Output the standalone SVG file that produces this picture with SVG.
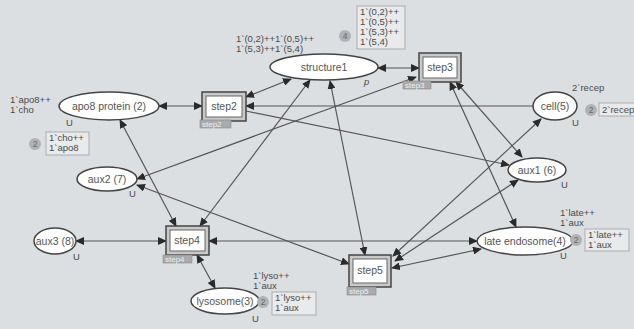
<svg xmlns="http://www.w3.org/2000/svg" width="634" height="329" viewBox="0 0 634 329">
<defs>
<marker id="ah" markerUnits="userSpaceOnUse" markerWidth="9" markerHeight="8" refX="8" refY="4" orient="auto-start-reverse"><path d="M0,0 L9,4 L0,8 z" fill="#2a2a2a"/></marker>
</defs>
<style>
.bg{fill:#dcdfe2}
.pl{fill:#fff;stroke:#444;stroke-width:1.5}
.to{fill:#c9c9c9;stroke:#444;stroke-width:1.5}
.ti{fill:#fff;stroke:#666;stroke-width:1}
.tag{fill:#a8abae;stroke:#888;stroke-width:0.6}
.tagt{font-family:"Liberation Sans",Arial,sans-serif;font-size:8px;fill:#eef0f2}
.lbl{font-family:"Liberation Sans",Arial,sans-serif;font-size:10.5px;fill:#555;text-anchor:middle}
.mk{font-family:"Liberation Sans",Arial,sans-serif;font-size:9.5px;fill:#4a4a4a}
.tok{fill:#b0b2b4}
.tokt{font-family:"Liberation Sans",Arial,sans-serif;font-size:8.5px;fill:#6a6a6a;text-anchor:middle}
.box{fill:#e9eaeb;stroke:#a9abad;stroke-width:1}
.ed{fill:none;stroke:#555;stroke-width:1.2}
.two{marker-start:url(#ah);marker-end:url(#ah)}
.one{marker-end:url(#ah)}
</style>
<rect class="bg" x="0" y="0" width="634" height="329"/>
<g id="connectors">
<line class="ed two" x1="159" y1="106" x2="202" y2="106"/>
<line class="ed two" x1="246" y1="97" x2="291" y2="79"/>
<line class="ed two" x1="378" y1="68" x2="419" y2="68"/>
<line class="ed one" x1="533" y1="106" x2="246" y2="106"/>
<line class="ed one" x1="246" y1="111" x2="509" y2="165"/>
<line class="ed two" x1="137" y1="179" x2="416" y2="77"/>
<line class="ed two" x1="120" y1="120" x2="176" y2="226"/>
<line class="ed two" x1="310" y1="80" x2="200" y2="226"/>
<line class="ed two" x1="330" y1="81" x2="365" y2="255"/>
<line class="ed two" x1="450" y1="82" x2="516" y2="227"/>
<line class="ed two" x1="456" y1="82" x2="522" y2="157"/>
<line class="ed two" x1="393" y1="256" x2="541" y2="119"/>
<line class="ed two" x1="395" y1="261" x2="518" y2="180"/>
<line class="ed two" x1="392" y1="268" x2="481" y2="249"/>
<line class="ed two" x1="209" y1="241" x2="477" y2="241"/>
<line class="ed two" x1="76" y1="241" x2="166" y2="241"/>
<line class="ed two" x1="197" y1="255" x2="215" y2="288"/>
<line class="ed two" x1="137" y1="185" x2="349" y2="264"/>
</g>
<g id="structure1">
<ellipse class="pl" cx="324" cy="67" rx="54" ry="13"/>
<text class="lbl" x="324" y="71">structure1</text>
<text class="mk" x="364" y="85" font-style="italic">p</text>
<text class="mk" x="236" y="42">1`(0,2)++1`(0,5)++</text>
<text class="mk" x="236" y="52">1`(5,3)++1`(5,4)</text>
<circle class="tok" cx="345" cy="36" r="6"/><text class="tokt" x="345" y="39">4</text>
<rect class="box" x="357" y="6" width="48" height="43"/>
<text class="mk" x="360" y="15">1`(0,2)++</text>
<text class="mk" x="360" y="25">1`(0,5)++</text>
<text class="mk" x="360" y="35">1`(5,3)++</text>
<text class="mk" x="360" y="45">1`(5,4)</text>
</g>
<g id="apo8">
<ellipse class="pl" cx="109" cy="106" rx="50" ry="14"/>
<text class="lbl" x="109" y="110">apo8 protein (2)</text>
<text class="mk" x="10" y="103">1`apo8++</text>
<text class="mk" x="10" y="113">1`cho</text>
<text class="mk" x="66" y="126">U</text>
<circle class="tok" cx="35" cy="144" r="6"/><text class="tokt" x="35" y="147">2</text>
<rect class="box" x="46" y="132" width="43" height="23"/>
<text class="mk" x="49" y="141">1`cho++</text>
<text class="mk" x="49" y="151">1`apo8</text>
</g>
<g id="cell">
<ellipse class="pl" cx="555" cy="106" rx="22" ry="14"/>
<text class="lbl" x="555" y="110">cell(5)</text>
<text class="mk" x="572" y="91">2`recep</text>
<text class="mk" x="572" y="126">U</text>
<circle class="tok" cx="591" cy="110" r="6"/><text class="tokt" x="591" y="113">2</text>
<rect class="box" x="599" y="103" width="40" height="13"/>
<text class="mk" x="602" y="113">2`recep</text>
</g>
<g id="aux1">
<ellipse class="pl" cx="537" cy="170" rx="29" ry="12"/>
<text class="lbl" x="537" y="174">aux1 (6)</text>
<text class="mk" x="561" y="188">U</text>
</g>
<g id="aux2">
<ellipse class="pl" cx="107" cy="179" rx="30" ry="12"/>
<text class="lbl" x="107" y="183">aux2 (7)</text>
<text class="mk" x="129" y="197">U</text>
</g>
<g id="aux3">
<ellipse class="pl" cx="55" cy="241" rx="21" ry="13"/>
<text class="lbl" x="55" y="245">aux3 (8)</text>
<text class="mk" x="73" y="260">U</text>
</g>
<g id="late">
<ellipse class="pl" cx="525" cy="241" rx="48" ry="14"/>
<text class="lbl" x="525" y="245">late endosome(4)</text>
<text class="mk" x="560" y="216">1`late++</text>
<text class="mk" x="560" y="226">1`aux</text>
<text class="mk" x="560" y="259">U</text>
<circle class="tok" cx="576" cy="240" r="6"/><text class="tokt" x="576" y="243">2</text>
<rect class="box" x="585" y="229" width="44" height="22"/>
<text class="mk" x="588" y="238">1`late++</text>
<text class="mk" x="588" y="248">1`aux</text>
</g>
<g id="lysosome">
<ellipse class="pl" cx="225" cy="301" rx="34" ry="13"/>
<text class="lbl" x="225" y="305">lysosome(3)</text>
<text class="mk" x="253" y="279">1`lyso++</text>
<text class="mk" x="253" y="289">1`aux</text>
<text class="mk" x="252" y="322">U</text>
<circle class="tok" cx="263" cy="302" r="6"/><text class="tokt" x="263" y="305">2</text>
<rect class="box" x="272" y="292" width="44" height="23"/>
<text class="mk" x="275" y="301">1`lyso++</text>
<text class="mk" x="275" y="311">1`aux</text>
</g>
<g id="step2">
<rect class="to" x="202" y="92" width="44" height="29"/>
<rect class="ti" x="206" y="96" width="36" height="21"/>
<text class="lbl" x="224" y="110">step2</text>
<rect class="tag" x="200" y="120" width="31" height="8"/>
<text class="tagt" x="202" y="127">step2</text>
</g>
<g id="step3">
<rect class="to" x="419" y="53" width="42" height="29"/>
<rect class="ti" x="423" y="57" width="34" height="21"/>
<text class="lbl" x="440" y="71">step3</text>
<rect class="tag" x="403" y="81" width="28" height="8"/>
<text class="tagt" x="405" y="88">step3</text>
</g>
<g id="step4">
<rect class="to" x="166" y="226" width="43" height="29"/>
<rect class="ti" x="170" y="230" width="35" height="21"/>
<text class="lbl" x="187" y="244">step4</text>
<rect class="tag" x="163" y="255" width="29" height="8"/>
<text class="tagt" x="165" y="262">step4</text>
</g>
<g id="step5">
<rect class="to" x="349" y="255" width="42" height="32"/>
<rect class="ti" x="353" y="259" width="34" height="24"/>
<text class="lbl" x="370" y="274">step5</text>
<rect class="tag" x="347" y="287" width="29" height="8"/>
<text class="tagt" x="349" y="294">step5</text>
</g>
</svg>
